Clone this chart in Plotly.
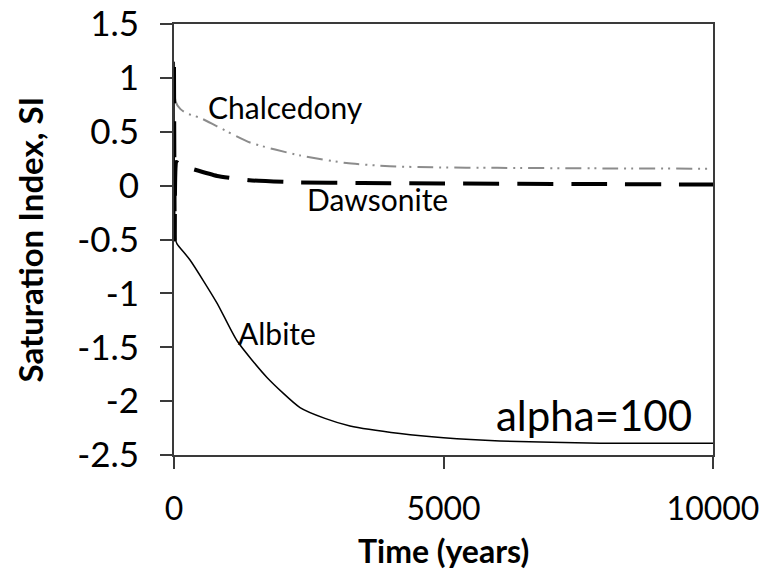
import plotly.graph_objects as go

# Data (time in years, saturation index)
chal_t = [0, 10, 30, 120, 240, 480, 800, 1410, 2340, 3200, 4000, 4800, 6000, 8000, 10000]
chal_si = [1.15, 0.95, 0.78, 0.71, 0.67, 0.63, 0.55, 0.40, 0.28, 0.21, 0.18, 0.17, 0.165, 0.16, 0.157]

daw_t = [0, 15, 40, 100, 240, 800, 1400, 2300, 3500, 5000, 7500, 10000]
daw_si = [1.10, -0.50, 0.22, 0.20, 0.17, 0.09, 0.05, 0.03, 0.025, 0.02, 0.015, 0.01]

alb_t = [0, 30, 56, 297, 798, 1169, 1725, 2338, 2800, 3265, 4193, 5000, 6048, 7903, 10000]
alb_si = [1.15, -0.50, -0.54, -0.69, -1.09, -1.44, -1.78, -2.06, -2.16, -2.23, -2.30, -2.34, -2.37, -2.39, -2.39]

x_ticks = [0, 5000, 10000]
y_ticks = [1.5, 1, 0.5, 0, -0.5, -1, -1.5, -2, -2.5]

labels = ["Chalcedony", "Dawsonite", "Albite", "alpha=100"]
label_t = [2060, 3770, 1910, 7790]
label_si = [0.73, -0.12, -1.37, -2.13]

x_title = "Time (years)"
y_title = "Saturation Index, SI"

FONT = "Lato"
AX = "#3a3a3a"

fig = go.Figure()
fig.add_trace(go.Scatter(x=chal_t, y=chal_si, mode="lines",
                         line=dict(color="#8c8c8c", width=2, shape="spline", smoothing=0.6,
                                   dash="16px,6px,2px,5px,2px,6px")))
fig.add_trace(go.Scatter(x=daw_t, y=daw_si, mode="lines",
                         line=dict(color="black", width=4, shape="spline", smoothing=0.4,
                                   dash="36px,18px")))
fig.add_trace(go.Scatter(x=alb_t, y=alb_si, mode="lines",
                         line=dict(color="black", width=1.5, shape="spline", smoothing=0.6)))

sizes = [30, 30, 30, 42]
for txt, tx, ty, sz in zip(labels, label_t, label_si, sizes):
    fig.add_annotation(x=tx, y=ty, text=txt, showarrow=False,
                       font=dict(family=FONT, size=sz, color="black"))

# axis titles
fig.add_annotation(xref="paper", yref="paper", x=0.5, y=0, yanchor="middle",
                   yshift=-95, text=f"<b>{x_title}</b>", showarrow=False,
                   font=dict(family=FONT, size=32, color="black"))
fig.add_annotation(xref="paper", yref="paper", x=0, y=0.5, xanchor="center",
                   xshift=-145, textangle=-90, text=f"<b>{y_title}</b>", showarrow=False,
                   font=dict(family=FONT, size=33, color="black"))

fig.update_layout(
    width=768, height=569,
    margin=dict(l=174, r=55, t=24, b=114),
    paper_bgcolor="white", plot_bgcolor="white",
    showlegend=False,
    font=dict(family=FONT, color="black"),
)
fig.update_xaxes(
    range=[0, 10000], tickvals=x_ticks, ticktext=[str(v) for v in x_ticks],
    showgrid=False, zeroline=False, showline=True, linecolor=AX, linewidth=2,
    mirror=True, ticks="outside", ticklen=12, tickcolor=AX, tickwidth=2,
    ticklabelstandoff=13, tickfont=dict(family=FONT, size=32), automargin=False,
)
fig.update_yaxes(
    range=[-2.5, 1.5], tickvals=y_ticks, ticktext=[f"{v:g}" for v in y_ticks],
    showgrid=False, zeroline=False, showline=True, linecolor=AX, linewidth=2,
    mirror=True, ticks="outside", ticklen=12, tickcolor=AX, tickwidth=2,
    ticklabelstandoff=14, tickfont=dict(family=FONT, size=35), automargin=False,
)

fig.write_html("out.html")
